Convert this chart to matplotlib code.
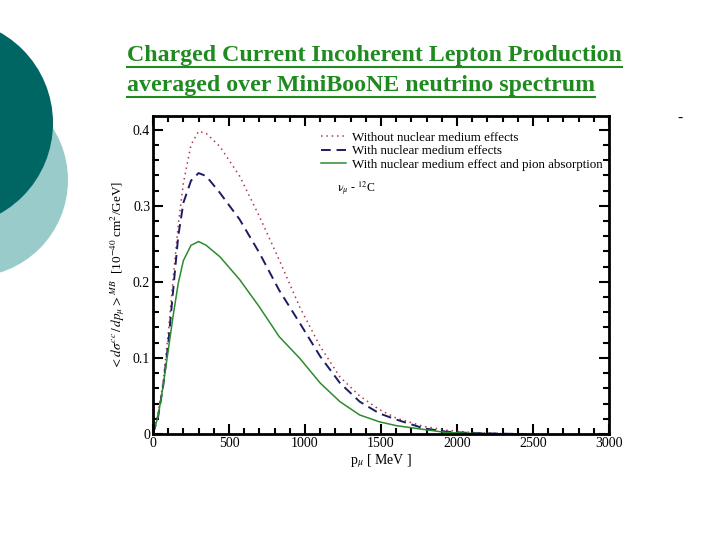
import matplotlib
matplotlib.use("Agg")
import matplotlib.pyplot as plt
from matplotlib.patches import Circle
from matplotlib.lines import Line2D
from matplotlib.ticker import MultipleLocator

plt.rcParams['font.family'] = ['Liberation Serif', 'DejaVu Serif']
plt.rcParams['mathtext.fontset'] = 'stix'

# muon momentum [MeV]
p_mu = [0, 33, 66, 100, 133, 166, 200, 250, 300, 350, 440, 570, 700, 830,
        965, 1100, 1230, 1360, 1490, 1600, 1780, 1930, 2100, 2300, 2450]
# <dsigma/dp_mu> [1e-40 cm^2/GeV]
no_medium = [0, 0.027, 0.067, 0.132, 0.205, 0.275, 0.330, 0.380, 0.398, 0.395,
             0.378, 0.339, 0.286, 0.229, 0.167, 0.115, 0.075, 0.050, 0.032,
             0.021, 0.010, 0.005, 0.002, 0.0005, 0]
medium = [0, 0.022, 0.062, 0.118, 0.190, 0.260, 0.304, 0.333, 0.343, 0.339,
          0.317, 0.282, 0.238, 0.189, 0.146, 0.102, 0.067, 0.0425, 0.027,
          0.019, 0.0075, 0.003, 0.0012, 0.0004, 0]
medium_abs = [0, 0.023, 0.062, 0.110, 0.156, 0.198, 0.228, 0.248, 0.253, 0.248,
              0.233, 0.203, 0.167, 0.128, 0.0996, 0.067, 0.0425, 0.025, 0.016,
              0.011, 0.006, 0.002, 0.0008, 0.0002, 0]

labels = ["Without nuclear medium effects",
          "With nuclear medium effects",
          "With nuclear medium effect and pion absorption"]
title_lines = ["Charged Current Incoherent Lepton Production",
               "averaged over MiniBooNE neutrino spectrum"]

W, H = 720, 540
fig = plt.figure(figsize=(7.2, 5.4), dpi=100)

# slide decoration
bg = fig.add_axes([0, 0, 1, 1])
bg.set_xlim(0, W)
bg.set_ylim(H, 0)
bg.set_aspect('equal')
bg.axis('off')
bg.add_patch(Circle((-29, 180), 97, color='#99cbcb', lw=0))
bg.add_patch(Circle((-51, 123), 104, color='#006664', lw=0))
bg.text(677, 122, "-", fontsize=11, color='black')

# title with underline
green = '#1f8a1f'
title_objs = []
for i, line in enumerate(title_lines):
    t = fig.text(127 / W, 1 - (61 + 30 * i) / H, line, fontsize=17.2,
                 fontweight='bold', color=green, va='baseline')
    title_objs.append(t)

ax = fig.add_axes([153 / W, 1 - 434 / H, 456 / W, 318 / H])
ax.plot(p_mu, no_medium, ls=(0, (1, 2.5)), color='#b03a48', lw=1.1, label=labels[0])
ax.plot(p_mu, medium, ls=(0, (5, 3)), color='#1c1c64', lw=1.4, label=labels[1])
ax.plot(p_mu, medium_abs, ls='-', color='#2e8a2e', lw=1.1, label=labels[2])

ax.set_xlim(0, 3000)
ax.set_ylim(0, 0.418)
ax.xaxis.set_major_locator(MultipleLocator(500))
ax.xaxis.set_minor_locator(MultipleLocator(100))
ax.yaxis.set_major_locator(MultipleLocator(0.1))
ax.yaxis.set_minor_locator(MultipleLocator(0.02))
ax.set_yticks([0, 0.1, 0.2, 0.3, 0.4])
ax.set_yticklabels(["0", "0.1", "0.2", "0.3", "0.4"])
ax.tick_params(which='both', direction='in', top=True, right=True, width=1.5,
               labelsize=10, pad=2)
ax.tick_params(which='major', length=7)
ax.tick_params(which='minor', length=4)
for s in ax.spines.values():
    s.set_linewidth(2)

ax.set_xlabel(r"p$_\mu$ [ MeV ]", fontsize=10, labelpad=2)
ax.set_ylabel(r"$<d\sigma^{cc}\,/\,dp_\mu>^{MB}$  [10$^{-40}$ cm$^2$/GeV]",
              fontsize=9.5, labelpad=4)

ax.legend(loc='upper right', bbox_to_anchor=(1.021, 1.0), frameon=False,
          fontsize=9.4, handlelength=1.9, handletextpad=0.5, labelspacing=0.1,
          borderaxespad=0.8)
ax.text(1210, 0.318, r"$\mathrm{\nu}_\mu$ - $^{12}$C", fontsize=8.5)

fig.canvas.draw()
r = fig.canvas.get_renderer()
for t in title_objs:
    bb = t.get_window_extent(r)
    y = bb.y0 - 1
    fig.add_artist(Line2D([bb.x0 / W, bb.x1 / W], [y / H, y / H],
                          color=green, lw=1.5, transform=fig.transFigure))

fig.savefig("out.png", dpi=100)
